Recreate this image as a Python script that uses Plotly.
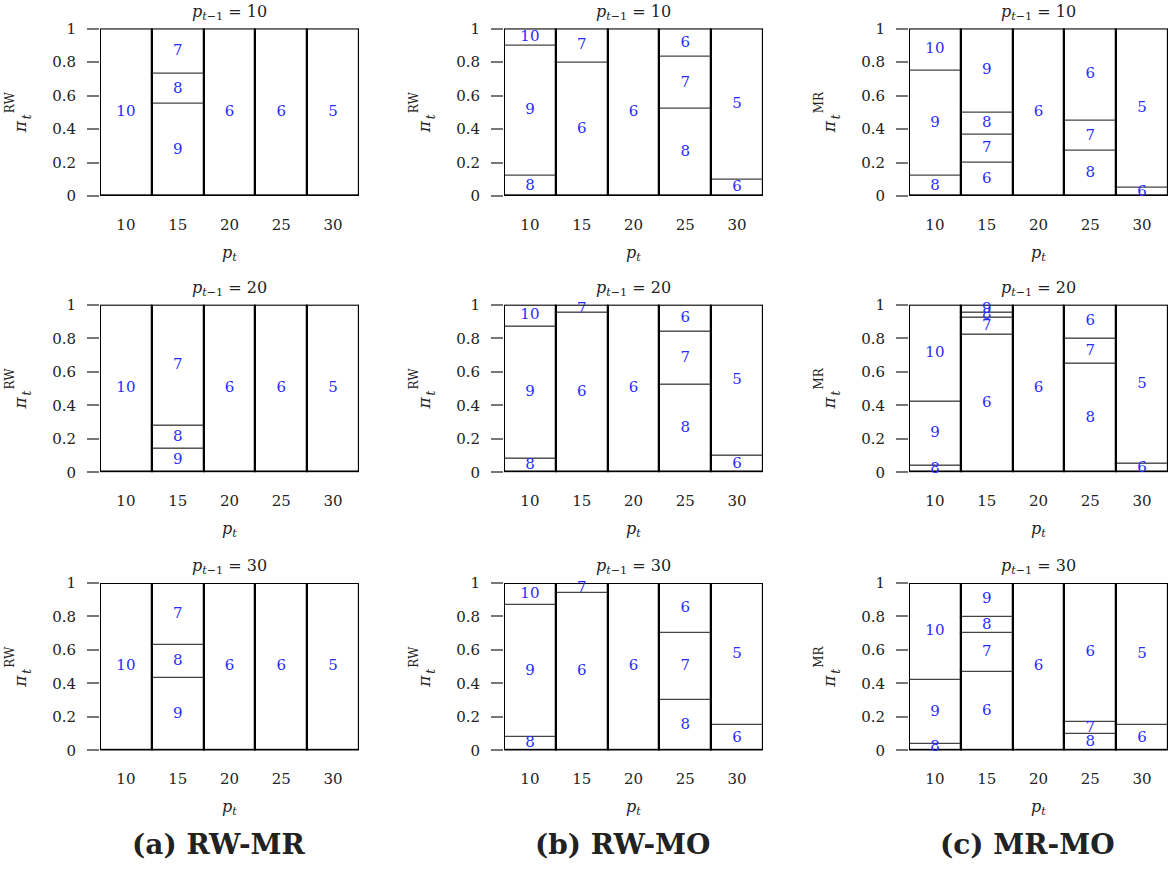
import plotly.graph_objects as go

# Current prices p_t (x categories) and previous prices p_{t-1} (rows)
PRICES = [10, 15, 20, 25, 30]
PREV_PRICES = [10, 20, 30]

# Each list: one entry per p_t, holding (state, share) pairs from bottom to top
RW_MR_10 = [[(10, 1.00)], [(9, 0.55), (8, 0.18), (7, 0.27)], [(6, 1.00)], [(6, 1.00)], [(5, 1.00)]]
RW_MR_20 = [[(10, 1.00)], [(9, 0.14), (8, 0.14), (7, 0.72)], [(6, 1.00)], [(6, 1.00)], [(5, 1.00)]]
RW_MR_30 = [[(10, 1.00)], [(9, 0.43), (8, 0.20), (7, 0.37)], [(6, 1.00)], [(6, 1.00)], [(5, 1.00)]]

RW_MO_10 = [[(8, 0.12), (9, 0.78), (10, 0.10)], [(6, 0.80), (7, 0.20)], [(6, 1.00)],
            [(8, 0.52), (7, 0.31), (6, 0.17)], [(6, 0.10), (5, 0.90)]]
RW_MO_20 = [[(8, 0.08), (9, 0.79), (10, 0.13)], [(6, 0.95), (7, 0.05)], [(6, 1.00)],
            [(8, 0.52), (7, 0.32), (6, 0.16)], [(6, 0.10), (5, 0.90)]]
RW_MO_30 = [[(8, 0.08), (9, 0.79), (10, 0.13)], [(6, 0.94), (7, 0.06)], [(6, 1.00)],
            [(8, 0.30), (7, 0.40), (6, 0.30)], [(6, 0.15), (5, 0.85)]]

MR_MO_10 = [[(8, 0.12), (9, 0.63), (10, 0.25)], [(6, 0.20), (7, 0.17), (8, 0.13), (9, 0.50)], [(6, 1.00)],
            [(8, 0.27), (7, 0.18), (6, 0.55)], [(6, 0.05), (5, 0.95)]]
MR_MO_20 = [[(8, 0.04), (9, 0.38), (10, 0.58)], [(6, 0.82), (7, 0.10), (8, 0.03), (9, 0.05)], [(6, 1.00)],
            [(8, 0.65), (7, 0.15), (6, 0.20)], [(6, 0.05), (5, 0.95)]]
MR_MO_30 = [[(8, 0.04), (9, 0.38), (10, 0.58)], [(6, 0.47), (7, 0.23), (8, 0.10), (9, 0.20)], [(6, 1.00)],
            [(8, 0.10), (7, 0.07), (6, 0.83)], [(6, 0.15), (5, 0.85)]]

Y_TICKS = [0, 0.2, 0.4, 0.6, 0.8, 1]
Y_TICK_TEXT = ["0", "0.2", "0.4", "0.6", "0.8", "1"]

COLUMNS = [
    ("(a)\u00a0RW-MR", "RW", [RW_MR_10, RW_MR_20, RW_MR_30]),
    ("(b)\u00a0RW-MO", "RW", [RW_MO_10, RW_MO_20, RW_MO_30]),
    ("(c)\u00a0MR-MO", "MR", [MR_MO_10, MR_MO_20, MR_MO_30]),
]

W, H = 1175, 874
FONT = "DejaVu Serif"
BLUE = "#2a2aff"
INK = "#222"

# pixel placement of the panels
COL_LEFT = [100, 504, 909]
COL_W = 259
ROW_TOP = [20, 302, 586]
ROW_H = 171
CAPTION_Y = 853

fig = go.Figure()
layout = dict(
    width=W, height=H, margin=dict(l=0, r=0, t=0, b=0),
    paper_bgcolor="white", plot_bgcolor="white",
    barmode="overlay", bargap=0, showlegend=False,
    font=dict(family=FONT, size=15, color=INK),
)
annotations = []
cats = [str(p) for p in PRICES]

k = 0
for c, (caption, ylabel, panels) in enumerate(COLUMNS):
    for r, panel in enumerate(panels):
        k += 1
        xa = "x" if k == 1 else f"x{k}"
        ya = "y" if k == 1 else f"y{k}"
        xkey = "xaxis" if k == 1 else f"xaxis{k}"
        ykey = "yaxis" if k == 1 else f"yaxis{k}"

        seg_x, seg_base, seg_h, txt_x, txt_y, txt = [], [], [], [], [], []
        totals = []
        for cat, stack in zip(cats, panel):
            base = 0.0
            for state, share in stack:
                seg_x.append(cat)
                seg_base.append(base)
                seg_h.append(share)
                txt_x.append(cat)
                txt_y.append(base + share / 2)
                txt.append(str(state))
                base += share
            totals.append(base)

        # stacked segments
        fig.add_trace(go.Bar(
            x=seg_x, y=seg_h, base=seg_base, width=1,
            marker=dict(color="white", line=dict(color="#444", width=1.2)),
            xaxis=xa, yaxis=ya, hoverinfo="skip",
        ))
        # heavier outline around each full bar
        fig.add_trace(go.Bar(
            x=cats, y=totals, base=[0] * len(cats), width=1,
            marker=dict(color="rgba(0,0,0,0)", line=dict(color="black", width=2)),
            xaxis=xa, yaxis=ya, hoverinfo="skip",
        ))
        # state labels
        fig.add_trace(go.Scatter(
            x=txt_x, y=txt_y, text=txt, mode="text",
            textfont=dict(family=FONT, size=15, color=BLUE),
            xaxis=xa, yaxis=ya, cliponaxis=False, hoverinfo="skip",
        ))

        x0 = COL_LEFT[c] / W
        x1 = (COL_LEFT[c] + COL_W) / W
        y1 = 1 - ROW_TOP[r] / H
        y0 = 1 - (ROW_TOP[r] + ROW_H) / H
        layout[xkey] = dict(
            domain=[x0, x1], anchor=ya, type="category", categoryorder="array",
            categoryarray=cats, range=[-0.5, 4.5], showgrid=False, zeroline=False,
            showline=False, ticks="", ticklabelstandoff=18,
            tickfont=dict(family=FONT, size=15, color=INK), fixedrange=True,
        )
        layout[ykey] = dict(
            domain=[y0, y1], anchor=xa, range=[0, 1], showgrid=False, zeroline=False,
            showline=False, ticks="outside", ticklen=12, tickwidth=1.5, tickcolor="#777",
            tickvals=Y_TICKS, ticktext=Y_TICK_TEXT, ticklabelstandoff=8,
            tickfont=dict(family=FONT, size=15, color=INK), fixedrange=True,
        )

        dx = f"{xa} domain"
        dy = f"{ya} domain"
        # panel title
        annotations.append(dict(
            xref=dx, yref=dy, x=0.5, y=1, yshift=16, xanchor="center", yanchor="middle",
            showarrow=False,
            text=f"<i>p</i><sub><i>t</i>−1</sub> = {PREV_PRICES[r]}",
            font=dict(family=FONT, size=16, color=INK),
        ))
        # x-axis title
        annotations.append(dict(
            xref=dx, yref=dy, x=0.5, y=0, yshift=-57, xanchor="center", yanchor="middle",
            showarrow=False,
            text="<i>p<sub>t</sub></i>", font=dict(family=FONT, size=16, color=INK),
        ))
        # y-axis title: pi with subscript t and superscript label
        annotations.append(dict(
            xref=dx, yref=dy, x=0, y=0.5, xshift=-80, yshift=-15,
            xanchor="center", yanchor="middle", showarrow=False,
            textangle=-90, text="<i>π</i>", font=dict(family=FONT, size=17, color=INK),
        ))
        annotations.append(dict(
            xref=dx, yref=dy, x=0, y=0.5, xshift=-73, yshift=-5,
            xanchor="center", yanchor="middle", showarrow=False,
            textangle=-90, text="<i>t</i>", font=dict(family=FONT, size=12, color=INK),
        ))
        annotations.append(dict(
            xref=dx, yref=dy, x=0, y=0.5, xshift=-90, yshift=10,
            xanchor="center", yanchor="middle", showarrow=False,
            textangle=-90, text=ylabel, font=dict(family=FONT, size=12, color=INK),
        ))

    # column caption
    annotations.append(dict(
        xref="paper", yref="paper", x=(COL_LEFT[c] + COL_W / 2 - 11) / W, y=1 - CAPTION_Y / H,
        xanchor="center", yanchor="middle", showarrow=False,
        text=f"<b>{caption}</b>", font=dict(family=FONT, size=28, color=INK),
    ))

layout["annotations"] = annotations
fig.update_layout(**layout)
fig.write_html(
    "out.html",
    post_script="document.body.style.margin='0';document.body.style.overflow='hidden';",
)
